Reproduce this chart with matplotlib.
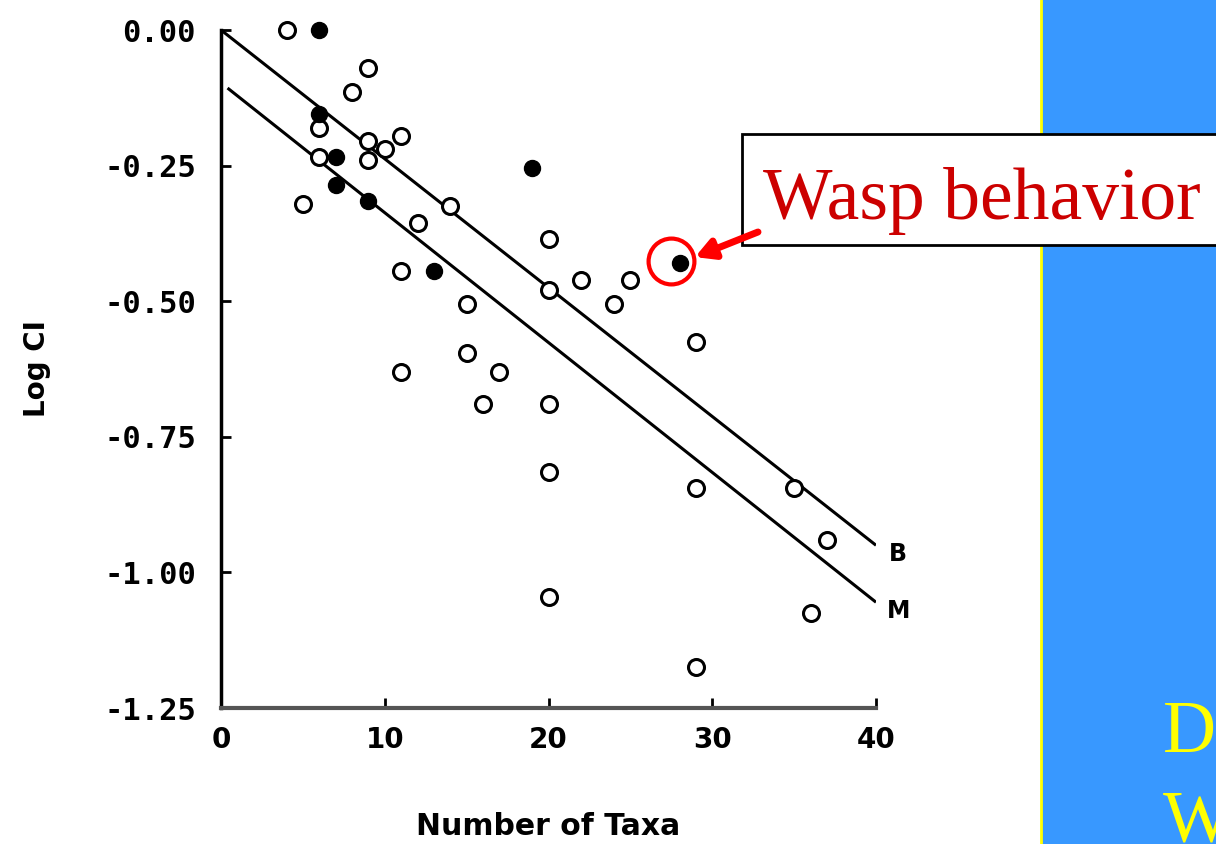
import matplotlib
matplotlib.use("Agg")
import matplotlib.pyplot as plt
from matplotlib.patches import Rectangle
from matplotlib.transforms import offset_copy

# open circles (Number of Taxa, Log CI)
open_x = [4, 9, 8, 6, 9, 9, 11, 10, 6, 5, 12, 14, 20, 11, 22, 25, 20, 24, 15,
          29, 15, 11, 17, 16, 20, 20, 29, 35, 37, 36, 20, 29]
open_y = [0.0, -0.07, -0.115, -0.18, -0.205, -0.24, -0.195, -0.22, -0.235, -0.32,
          -0.355, -0.325, -0.385, -0.445, -0.46, -0.46, -0.48, -0.505, -0.505,
          -0.575, -0.595, -0.63, -0.63, -0.69, -0.69, -0.815, -0.845, -0.845,
          -0.94, -1.075, -1.045, -1.175]

# filled circles
filled_x = [6, 6, 7, 7, 9, 13, 19, 28]
filled_y = [0.0, -0.155, -0.235, -0.285, -0.315, -0.445, -0.255, -0.43]

# wasp behaviour data set
wasp_x = 28
wasp_y = -0.43

# regression lines B and M
b_x = [0, 40]
b_y = [0.0, -0.95]
m_x = [0.4, 40]
m_y = [-0.107, -1.055]

y_ticks = [0.0, -0.25, -0.5, -0.75, -1.0, -1.25]
y_ticklabels = ["0.00", "-0.25", "-0.50", "-0.75", "-1.00", "-1.25"]
x_ticks = [0, 10, 20, 30, 40]

W, H = 1216, 844
fig = plt.figure(figsize=(W / 100, H / 100), dpi=100)
fig.patch.set_facecolor("white")

# blue slide panel on the right
fig.patches.append(Rectangle((1042 / W, 0), (W - 1042) / W, 1,
                             transform=fig.transFigure, facecolor="#3898ff",
                             edgecolor="none", zorder=0))
fig.lines.append(plt.Line2D([1041 / W, 1041 / W], [0, 1], transform=fig.transFigure,
                            color="#ffff00", lw=2, zorder=1))
fig.text(1163 / W, 1 - 752 / H, "D", color="#ffff00", fontsize=53,
         family="Liberation Serif", va="baseline", ha="left")
fig.text(1163 / W, 1 - 842 / H, "W", color="#ffff00", fontsize=53,
         family="Liberation Serif", va="baseline", ha="left")

ax = fig.add_axes([221 / W, 1 - 708 / H, 655 / W, 678 / H])
ax.set_zorder(5)
ax.set_xlim(0, 40)
ax.set_ylim(-1.25, 0)

ax.plot(b_x, b_y, color="black", lw=2.2, solid_capstyle="butt")
ax.plot(m_x, m_y, color="black", lw=2.2, solid_capstyle="butt")

ax.plot(open_x, open_y, "o", ms=11.5, mfc="white", mec="black", mew=2.2,
        clip_on=False, zorder=3)
ax.plot(filled_x, filled_y, "o", ms=11.5, mfc="black", mec="black", mew=1,
        clip_on=False, zorder=4)

lab_font = "DejaVu Sans"
ax.annotate("B", (b_x[-1], b_y[-1]), xytext=(16, -6), textcoords="offset points",
            fontsize=17, fontweight="bold", family=lab_font, va="center", ha="center",
            annotation_clip=False)
ax.annotate("M", (m_x[-1], m_y[-1]), xytext=(16, -6), textcoords="offset points",
            fontsize=17, fontweight="bold", family=lab_font, va="center", ha="center",
            annotation_clip=False)

# red ring round the wasp point
ring_tr = offset_copy(ax.transData, fig=fig, x=-9, y=2, units="dots")
ax.plot([wasp_x], [wasp_y], "o", ms=33, mfc="none", mec="#ff0000", mew=3,
        transform=ring_tr, clip_on=False, zorder=5)

for side in ["top", "right"]:
    ax.spines[side].set_visible(False)
ax.spines["left"].set_linewidth(2.5)
ax.spines["bottom"].set_linewidth(3)
ax.spines["bottom"].set_color("#555555")

ax.set_yticks(y_ticks)
ax.set_yticklabels(y_ticklabels, family="DejaVu Sans Mono", fontweight="bold",
                   fontsize=22)
ax.set_xticks(x_ticks)
ax.set_xticklabels([str(v) for v in x_ticks], family=lab_font, fontweight="bold",
                   fontsize=20)
ax.tick_params(axis="both", direction="in", length=7, width=2, color="black")
ax.tick_params(axis="y", pad=18)
ax.tick_params(axis="x", pad=13)

ax.set_xlabel("Number of Taxa", family=lab_font, fontweight="bold", fontsize=21.5,
              labelpad=42)
ax.set_ylabel("Log CI", family=lab_font, fontweight="bold", fontsize=20,
              labelpad=38)

# callout box with arrow (box drawn under the arrow)
ax.add_patch(Rectangle((742 / W, 1 - 245 / H), (W - 742 + 20) / W, 111 / H,
                       transform=fig.transFigure, facecolor="white",
                       edgecolor="black", lw=2, zorder=6, clip_on=False))
ax.text(763 / W, 1 - 219 / H, "Wasp behavior", color="#cc0000", fontsize=53,
        family="Liberation Serif", va="baseline", ha="left", zorder=7,
        transform=fig.transFigure)
ax.annotate("", xy=(wasp_x, wasp_y), xytext=(758, H - 232), textcoords="figure pixels",
            arrowprops=dict(arrowstyle="-|>,head_length=1.1,head_width=0.6",
                            color="#ff0000", lw=5, shrinkA=0, shrinkB=12),
            annotation_clip=False, zorder=8)

fig.savefig("out.png", dpi=100)
